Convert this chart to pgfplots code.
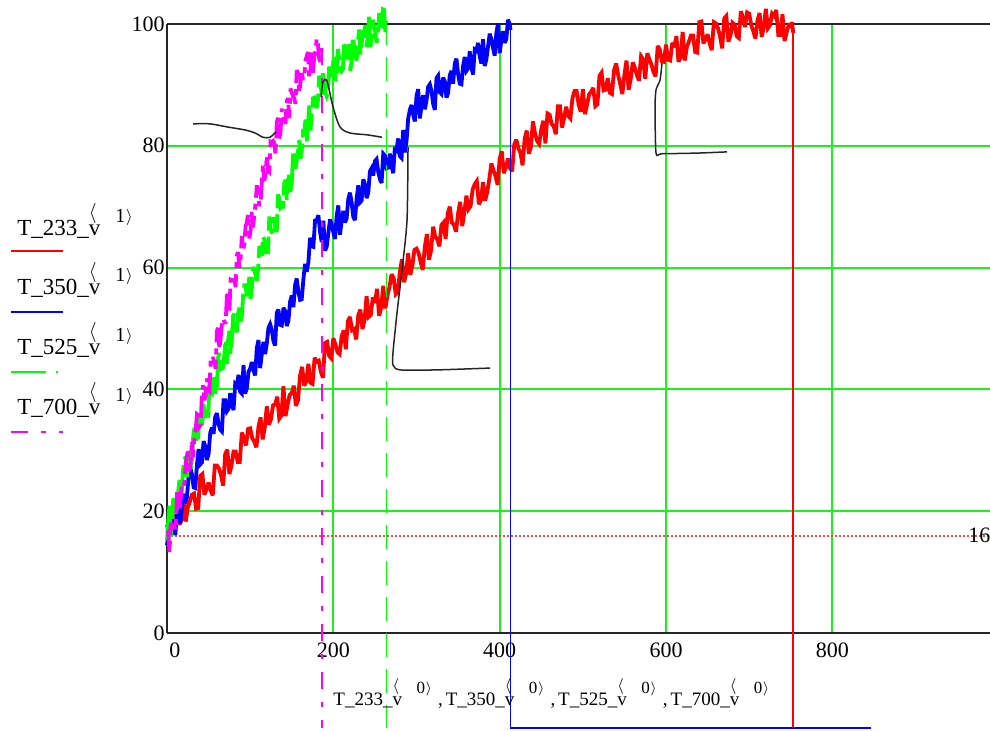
\documentclass[border=0pt]{standalone}
\usepackage{pgfplots}
\pgfplotsset{compat=1.18}
\usepackage{fontspec}
\setmainfont{Liberation Serif}

\definecolor{mcRed}{RGB}{255,0,0}
\definecolor{mcBlue}{RGB}{0,0,255}
\definecolor{mcGreen}{RGB}{0,255,0}
\definecolor{mcMagenta}{RGB}{255,0,255}
\definecolor{gridGreen}{RGB}{30,240,30}
\definecolor{markRed}{RGB}{255,70,70}

\tikzset{
  gdash/.style={dash pattern=on 12pt off 6pt},
  gdashnoisy/.style={dash pattern=on 18pt off 3pt},
  mdash/.style={dash pattern=on 8.5pt off 6.5pt on 2.5pt off 6.5pt},
  mdashnoisy/.style={dash pattern=on 11pt off 3pt on 3pt off 3pt},
  trace/.style={line width=1.9pt, line join=miter, miter limit=3},
  drop/.style={line width=0.9pt},
}

% column-index superscripts, legend size and axis-label size
\newcommand{\colidxL}[1]{\rlap{\raisebox{8.5pt}{\fontsize{10}{10}\selectfont$\langle$}}v\kern7.5pt\raisebox{6.5pt}{\fontsize{10}{10}\selectfont #1\kern0.3pt\raisebox{0.5pt}{\fontsize{8}{8}\selectfont$\rangle$}}}
\newcommand{\colidxX}[1]{\rlap{\raisebox{7.5pt}{\fontsize{8.5}{8.5}\selectfont$\langle$}}v\kern7.25pt\raisebox{6pt}{\fontsize{8.5}{8.5}\selectfont #1\kern0.3pt\raisebox{0.5pt}{\fontsize{7}{7}\selectfont$\rangle$}}}

\begin{document}
\begin{tikzpicture}
\useasboundingbox (-83.5pt,-49pt) rectangle (411.5pt,316.5pt);
\begin{axis}[
  at={(0pt,0pt)}, anchor=south west,
  scale only axis, width=411.7pt, height=304.5pt,
  xmin=0, xmax=990, ymin=0, ymax=100,
  clip=false,
  axis x line*=bottom, axis y line*=left,
  axis line style={black!85, line width=0.8pt},
  xtick={0,200,400,600,800},
  xticklabels={\kern8pt 0,200,400,600,800},
  ytick={0,20,40,60,80,100},
  major tick length=0pt,
  grid=major,
  major grid style={gridGreen, line width=1pt},
  /pgf/number format/assume math mode=true,
  tick label style={font=\fontsize{11}{13}\selectfont},
  xticklabel style={anchor=base, yshift=-12.5pt, inner sep=0pt},
  yticklabel style={anchor=east, inner sep=0pt, xshift=-1pt},
]
% border along the top
\draw[black!85, line width=0.8pt] (rel axis cs:0,1) -- (rel axis cs:1,1);

% marker line at 16
\addplot[markRed, line width=1pt, dash pattern=on 1pt off 1pt] coordinates {(0,16) (990,16)};
\node[anchor=base west, inner sep=0pt, font=\fontsize{11}{13}\selectfont] at (axis cs:963,14.8) {16};

% T_233
\addplot[mcRed, trace] coordinates {
(0,17.8)(2.5,15.9)(5,16.3)(7.5,19.8)(10,19.6)(12.5,21.7)(15,17.8)(17.5,18.6)(20,22.9)(22.5,18.3)
(25,20.6)(27.5,21.6)(30,22.7)(32.5,22.9)(35,20.4)(37.5,20.5)(40,25.8)(42.5,26.1)(45,22.7)(47.5,23.6)
(50,24.7)(52.5,23.4)(55,22.6)(57.5,27.5)(60,27.5)(62.5,27.0)(65,25.9)(67.5,24.2)(70,29.4)(72.5,30.1)
(75,26.1)(77.5,27.4)(80,29.8)(82.5,29.8)(85,28.1)(87.5,28.1)(90,32.9)(92.5,32.0)(95,30.8)(97.5,33.5)
(100,33.6)(102.5,32.0)(105,31.4)(107.5,30.5)(110,33.9)(112.5,35.4)(115,31.8)(117.5,33.7)(120,37.2)(122.5,34.2)
(125,35.1)(127.5,37.4)(130,37.5)(132.5,38.8)(135,35.2)(137.5,35.7)(140,40.5)(142.5,35.6)(145,37.5)(147.5,39.1)
(150,39.4)(152.5,40.6)(155,37.3)(157.5,38.2)(160,42.3)(162.5,43.7)(165,40.6)(167.5,41.3)(170,44.2)(172.5,41.1)
(175,40.9)(177.5,45.2)(180,44.5)(182.5,44.7)(185,42.9)(187.5,41.9)(190,47.6)(192.5,47.8)(195,45.5)(197.5,45.1)
(200,48.4)(202.5,47.4)(205,46.1)(207.5,45.8)(210,48.7)(212.5,49.7)(215,46.6)(217.5,51.2)(220,51.9)(222.5,49.7)
(225,49.9)(227.5,48.2)(230,52.2)(232.5,53.1)(235,49.9)(237.5,51.4)(240,55.3)(242.5,51.9)(245,52.2)(247.5,55.1)
(250,54.2)(252.5,56.5)(255,52.1)(257.5,53.4)(260,57.0)(262.5,53.3)(265,55.4)(267.5,56.8)(270,58.9)(272.5,58.3)
(275,55.6)(277.5,55.9)(280,59.3)(282.5,61.4)(285,57.6)(287.5,59.0)(290,62.4)(292.5,58.8)(295,60.3)(297.5,62.9)
(300,63.1)(302.5,62.4)(305,60.9)(307.5,59.6)(310,63.4)(312.5,65.5)(315,61.3)(317.5,62.8)(320,66.7)(322.5,65.1)
(325,64.6)(327.5,63.5)(330,67.0)(332.5,67.4)(335,64.7)(337.5,68.9)(340,70.0)(342.5,67.4)(345,67.0)(347.5,65.9)
(350,68.9)(352.5,70.8)(355,66.8)(357.5,69.1)(360,71.8)(362.5,69.6)(365,70.1)(367.5,72.8)(370,73.7)(372.5,74.2)
(375,70.4)(377.5,71.1)(380,74.0)(382.5,71.0)(385,72.4)(387.5,74.5)(390,77.1)(392.5,76.0)(395,75.0)(397.5,73.6)
(400,77.9)(402.5,79.1)(405,75.5)(407.5,76.5)(410,77.9)(412.5,76.3)(415,75.8)(417.5,80.2)(420,81.0)(422.5,79.6)
(425,78.8)(427.5,76.8)(430,81.1)(432.5,82.5)(435,78.7)(437.5,79.8)(440,84.0)(442.5,82.0)(445,80.8)(447.5,80.3)
(450,82.7)(452.5,84.1)(455,80.4)(457.5,85.3)(460,85.1)(462.5,83.6)(465,83.2)(467.5,81.9)(470,86.5)(472.5,86.5)
(475,83.0)(477.5,84.6)(480,86.4)(482.5,84.9)(485,84.5)(487.5,87.8)(490,89.0)(492.5,89.0)(495,86.7)(497.5,85.6)
(500,89.3)(502.5,85.2)(505,86.7)(507.5,88.4)(510,88.9)(512.5,89.5)(515,86.5)(517.5,86.8)(520,91.5)(522.5,92.0)
(525,89.1)(527.5,89.2)(530,91.1)(532.5,88.7)(535,88.5)(537.5,92.4)(540,93.5)(542.5,91.6)(545,90.1)(547.5,88.5)
(550,91.7)(552.5,94.0)(555,89.2)(557.5,90.9)(560,93.7)(562.5,92.8)(565,91.6)(567.5,90.7)(570,94.7)(572.5,94.2)
(575,91.0)(577.5,95.2)(580,94.2)(582.5,93.3)(585,92.1)(587.5,91.4)(590,96.4)(592.5,95.8)(595,93.9)(597.5,93.8)
(600,96.6)(602.5,94.1)(605,94.0)(607.5,96.9)(610,96.2)(612.5,98.0)(615,93.8)(617.5,94.5)(620,98.7)(622.5,94.0)
(625,96.2)(627.5,97.1)(630,98.1)(632.5,98.1)(635,95.4)(637.5,95.3)(640,100.3)(642.5,100.4)(645,96.8)(647.5,97.5)
(650,98.3)(652.5,96.8)(655,95.7)(657.5,100.3)(660,100.1)(662.5,99.3)(665,97.9)(667.5,96.0)(670,100.9)(672.5,101.3)
(675,97.1)(677.5,98.1)(680,100.2)(682.5,99.9)(685,98.0)(687.5,97.7)(690,102.1)(692.5,101.0)(695,99.5)(697.5,101.9)
(700,101.7)(702.5,99.8)(705,98.8)(707.5,97.6)(710,100.6)(712.5,101.8)(715,97.9)(717.5,99.4)(720,102.5)(722.5,99.3)
(725,99.8)(727.5,101.7)(730,101.3)(732.5,102.3)(735,98.2)(737.5,98.2)(740,101.6)(742.5,97.2)(745,98.6)(747.5,99.8)
(750,99.6)(751.5,100.3)(753,98.5)};
\addplot[mcRed, drop] coordinates {(753,98.5)(753,-15.6)(846,-15.6)};

% T_350
\addplot[mcBlue, trace] coordinates {
(0,14.4)(2,16.7)(4,19.0)(6,18.2)(8,17.0)(10,16.1)(12,20.2)(14,22.3)(16,18.0)(18,20.7)
(20,22.8)(22,21.3)(24,22.3)(26,25.9)(28,27.2)(30,26.0)(32,23.9)(34,23.8)(36,27.6)(38,30.2)
(40,27.7)(42,28.0)(44,31.5)(46,30.7)(48,28.4)(50,29.4)(52,32.9)(54,33.7)(56,32.7)(58,35.5)
(60,36.1)(62,34.3)(64,33.4)(66,33.1)(68,38.2)(70,38.2)(72,36.4)(74,36.8)(76,39.4)(78,37.6)
(80,36.6)(82,40.9)(84,40.6)(86,42.4)(88,39.6)(90,39.3)(92,44.0)(94,39.3)(96,40.2)(98,42.9)
(100,43.4)(102,44.5)(104,43.1)(106,42.3)(108,46.8)(110,48.1)(112,43.5)(114,45.8)(116,47.8)(118,45.8)
(120,47.5)(122,50.1)(124,50.7)(126,49.8)(128,47.9)(130,47.2)(132,52.6)(134,53.1)(136,50.6)(138,50.5)
(140,53.4)(142,52.9)(144,50.4)(146,51.3)(148,54.4)(150,55.4)(152,53.5)(154,57.1)(156,58.2)(158,56.0)
(160,54.7)(162,54.8)(164,58.1)(166,60.6)(168,59.3)(170,60.9)(172,64.9)(174,63.5)(176,63.4)(178,67.7)
(180,67.8)(182,68.6)(184,65.9)(186,64.2)(188,67.7)(190,62.8)(192,63.4)(194,65.7)(196,67.9)(198,67.1)
(200,65.8)(202,64.7)(204,68.5)(206,70.2)(208,65.4)(210,67.7)(212,69.3)(214,67.4)(216,68.1)(218,71.3)
(220,72.3)(222,70.7)(224,68.3)(226,67.8)(228,71.3)(230,73.5)(232,70.7)(234,71.0)(236,74.5)(238,73.7)
(240,71.4)(242,72.3)(244,75.8)(246,76.3)(248,75.1)(250,77.5)(252,77.8)(254,75.7)(256,74.5)(258,73.9)
(260,78.7)(262,78.4)(264,76.3)(266,76.4)(268,78.7)(270,76.7)(272,75.5)(274,79.8)(276,79.4)(278,81.2)
(280,78.3)(282,78.0)(284,82.6)(286,78.9)(288,80.8)(290,84.5)(292,85.9)(294,86.7)(296,85.1)(298,84.0)
(300,88.2)(302,89.3)(304,84.5)(306,86.5)(308,88.3)(310,86.0)(312,87.4)(314,89.7)(316,90.1)(318,89.0)
(320,86.9)(322,85.9)(324,91.1)(326,91.5)(328,88.8)(330,88.5)(332,91.2)(334,90.6)(336,87.9)(338,88.7)
(340,91.6)(342,92.3)(344,90.2)(346,93.5)(348,94.3)(350,91.8)(352,90.2)(354,90.1)(356,93.1)(358,94.6)
(360,92.3)(362,92.7)(364,95.5)(366,92.9)(368,91.7)(370,95.8)(372,95.6)(374,96.9)(376,94.7)(378,93.5)
(380,97.5)(382,93.1)(384,94.2)(386,96.3)(388,98.4)(390,97.5)(392,96.1)(394,94.8)(396,98.5)(398,100.1)
(400,95.2)(402,97.3)(404,98.8)(406,96.9)(408,97.5)(410,100.7)(412,100.0)(413,99.0)};
\addplot[mcBlue, drop] coordinates {(413,99.0)(413,-15.6)(846,-15.6)};

% T_525
\addplot[mcGreen, trace, gdashnoisy] coordinates {
(0,15.2)(1.5,18.3)(3,20.9)(4.5,15.8)(6,18.1)(7.5,22.1)(9,20.7)(10.5,20.2)(12,19.4)(13.5,23.3)
(15,25.1)(16.5,22.4)(18,24.2)(19.5,27.0)(21,28.4)(22.5,29.0)(24,25.6)(25.5,28.0)(27,29.7)(28.5,27.0)
(30,28.5)(31.5,32.3)(33,33.7)(34.5,31.1)(36,32.1)(37.5,32.1)(39,35.4)(40.5,35.7)(42,33.6)(43.5,37.6)
(45,36.6)(46.5,34.9)(48,35.0)(49.5,35.3)(51,40.8)(52.5,39.3)(54,39.2)(55.5,41.2)(57,42.0)(58.5,39.3)
(60,40.2)(61.5,45.3)(63,46.0)(64.5,43.3)(66,43.4)(67.5,43.6)(69,45.8)(70.5,48.1)(72,44.2)(73.5,48.1)
(75,49.6)(76.5,45.8)(78,48.4)(79.5,52.1)(81,52.4)(82.5,49.8)(84,49.4)(85.5,52.5)(87,53.4)(88.5,51.1)
(90,52.0)(91.5,55.4)(93,57.1)(94.5,57.1)(96,55.3)(97.5,56.0)(99,58.5)(100.5,54.9)(102,56.6)(103.5,60.1)
(105,59.5)(106.5,58.8)(108,57.8)(109.5,59.7)(111,63.5)(112.5,63.2)(114,61.9)(115.5,65.1)(117,64.6)(118.5,62.3)
(120,62.7)(121.5,62.6)(123,68.4)(124.5,66.4)(126,65.6)(127.5,68.2)(129,67.9)(130.5,66.1)(132,66.1)(133.5,72.0)
(135,71.4)(136.5,69.8)(138,70.0)(139.5,70.0)(141,73.9)(142.5,74.4)(144,71.1)(145.5,74.4)(147,75.2)(148.5,72.1)
(150,74.0)(151.5,78.4)(153,79.2)(154.5,76.2)(156,77.6)(157.5,79.0)(159,80.9)(160.5,77.9)(162,79.2)(163.5,82.3)
(165,82.2)(166.5,84.3)(168,80.7)(169.5,83.4)(171,86.6)(172.5,82.5)(174,85.1)(175.5,87.8)(177,87.9)(178.5,86.7)
(180,86.2)(181.5,87.5)(183,91.5)(184.5,90.6)(186,88.4)(187.5,91.9)(189,90.2)(190.5,88.7)(192,88.1)(193.5,88.6)
(195,93.0)(196.5,92.1)(198,91.3)(199.5,93.4)(201,94.6)(202.5,90.7)(204,91.0)(205.5,95.9)(207,94.3)(208.5,93.1)
(210,92.3)(211.5,92.6)(213,96.6)(214.5,96.2)(216,94.2)(217.5,95.4)(219,96.7)(220.5,92.3)(222,94.1)(223.5,97.9)
(225,96.4)(226.5,94.9)(228,94.0)(229.5,97.0)(231,99.1)(232.5,95.0)(234,96.7)(235.5,98.7)(237,98.8)(238.5,99.8)
(240,96.2)(241.5,98.0)(243,101.2)(244.5,96.2)(246,97.8)(247.5,100.7)(249,99.3)(250.5,98.6)(252,96.9)(253.5,98.8)
(255,101.5)(256.5,101.5)(258,99.3)(259.5,102.4)(261,102.3)(262.5,98.7)(264,100.5)};
\addplot[mcGreen, drop, gdash] coordinates {(264,100.5)(264,-15.6)};

% T_700
\addplot[mcMagenta, trace, mdashnoisy] coordinates {
(0,16.4)(1.5,16.6)(3,13.2)(4.5,18.1)(6,17.4)(7.5,17.3)(9,17.4)(10.5,16.9)(12,22.8)(13.5,22.8)
(15,20.0)(16.5,22.2)(18,24.2)(19.5,23.8)(21,24.8)(22.5,27.9)(24,29.1)(25.5,30.3)(27,26.6)(28.5,28.0)
(30,31.6)(31.5,28.9)(33,32.0)(34.5,33.3)(36,35.9)(37.5,35.7)(39,33.9)(40.5,34.2)(42,39.3)(43.5,40.7)
(45,38.2)(46.5,39.1)(48,41.8)(49.5,39.9)(51,39.7)(52.5,44.8)(54,44.5)(55.5,45.3)(57,44.4)(58.5,43.4)
(60,49.6)(61.5,50.1)(63,46.6)(64.5,48.4)(66,50.7)(67.5,51.6)(69,51.1)(70.5,50.8)(72,55.4)(73.5,55.6)
(75,52.8)(76.5,58.0)(78,57.9)(79.5,57.4)(81,58.2)(82.5,56.8)(84,62.1)(85.5,62.5)(87,59.9)(88.5,61.6)
(90,65.2)(91.5,62.9)(93,63.9)(94.5,66.8)(96,67.4)(97.5,68.8)(99,64.8)(100.5,66.1)(102,69.2)(103.5,66.6)
(105,68.7)(106.5,70.6)(108,73.5)(109.5,72.5)(111,70.1)(112.5,70.7)(114,73.9)(115.5,77.0)(117,74.2)(118.5,75.3)
(120,78.4)(121.5,75.9)(123,75.7)(124.5,80.7)(126,80.6)(127.5,80.8)(129,80.5)(130.5,78.5)(132,83.9)(133.5,84.6)
(135,81.2)(136.5,82.3)(138,86.1)(139.5,84.9)(141,84.3)(142.5,83.6)(144,87.4)(145.5,87.8)(147,84.5)(148.5,89.4)
(150,88.7)(151.5,88.2)(153,87.8)(154.5,86.9)(156,92.4)(157.5,92.0)(159,88.7)(160.5,90.4)(162,91.9)(163.5,90.9)
(165,91.3)(166.5,94.0)(168,94.7)(169.5,95.4)(171,91.2)(172.5,92.2)(174,95.3)(175.5,92.0)(177,94.6)(178.5,95.5)
(180,97.6)(181.5,96.7)(183,94.2)(184.5,93.8)(186,96.0)};
\addplot[mcMagenta, drop, mdash] coordinates {(186,96.0)(186,-15.6)};

% freehand annotation strokes
\addplot[black!85, line width=0.75pt, smooth, tension=0.5] coordinates {
(31.3,83.6)(51.7,83.6)(72.1,83.1)(93.8,82.6)(105.8,82.1)(115.4,81.4)(123.8,81.4)(131.1,82.3)};
\addplot[black!85, line width=0.75pt, smooth, tension=0.5] coordinates {
(185.2,88.0)(187.6,90.5)(192.4,90.6)(199.6,86.4)(208.0,83.1)(220.0,82.1)(240.5,81.8)(258.5,81.4)};
\addplot[black!85, line width=0.75pt, smooth, tension=0.4] coordinates {
(289.8,79.8)(288.6,67.8)(282.6,59.6)(276.5,52.5)(271.7,46.0)(271.7,44.0)(280.2,43.2)(324.6,43.2)(388.4,43.5)};
\addplot[black!85, line width=0.75pt, smooth, tension=0.4] coordinates {
(595.2,93.6)(592.8,90.8)(588.0,89.2)(586.8,86.4)(588.0,78.8)(595.2,78.7)(637.3,78.8)(673.3,79.0)};
\end{axis}

% series key at the left
\begin{scope}[every node/.style={anchor=base west, inner sep=0pt, font=\fontsize{11.5}{13}\selectfont}]
\node at (-75pt,198.5pt) {T\_233\_\colidxL{1}};
\node at (-75pt,169pt) {T\_350\_\colidxL{1}};
\node at (-75pt,139pt) {T\_525\_\colidxL{1}};
\node at (-75pt,109pt) {T\_700\_\colidxL{1}};
\end{scope}
\draw[mcRed, line width=0.9pt] (-78pt,191pt) -- (-52pt,191pt);
\draw[mcBlue, line width=0.9pt] (-78pt,160.5pt) -- (-52pt,160.5pt);
\draw[mcGreen, line width=0.9pt, dash pattern=on 17.5pt off 5pt on 1pt off 5pt] (-78pt,130.5pt) -- (-52pt,130.5pt);
\draw[mcMagenta, line width=0.9pt, mdash] (-78pt,100.5pt) -- (-52pt,100.5pt);

% horizontal axis label
\node[anchor=base west, inner sep=0pt, font=\fontsize{9.5}{11}\selectfont] at (83pt,-36.5pt)
 {T\_233\_\colidxX{0}\kern3pt,\kern1.5pt T\_350\_\colidxX{0}\kern3pt,\kern1.5pt T\_525\_\colidxX{0}\kern3pt,\kern1.5pt T\_700\_\colidxX{0}};
\end{tikzpicture}
\end{document}
